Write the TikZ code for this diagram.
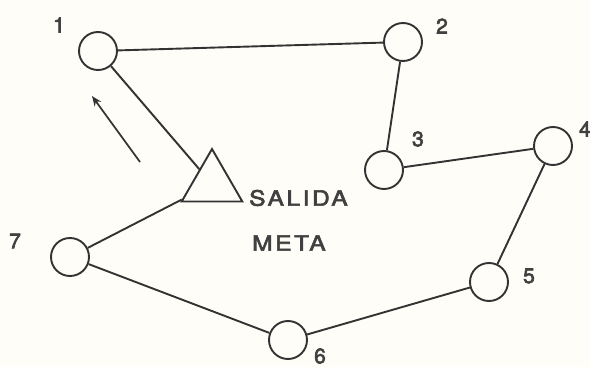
\documentclass[tikz,border=0pt]{standalone}
\usepackage{fontspec}
\setmainfont[FakeBold=3]{TeX Gyre Heros}
\newfontfamily\labfont[LetterSpace=12,FakeStretch=1.17,FakeBold=3]{TeX Gyre Heros}
\usetikzlibrary{shapes.geometric,arrows.meta}
\definecolor{ink}{HTML}{333333}
\definecolor{txt}{HTML}{404040}
\definecolor{paper}{HTML}{FEFDF8}
\begin{document}
\begin{tikzpicture}[x=1pt,y=-1pt,
  stop/.style={circle,draw=ink,line width=1.9pt,minimum size=38pt,inner sep=0pt},
  start/.style={regular polygon,regular polygon sides=3,draw=ink,line width=1.9pt,minimum size=70pt,inner sep=0pt},
  edge/.style={draw=ink,line width=1.9pt},
  num/.style={text=txt,font=\fontsize{21}{25}\selectfont,inner sep=0pt},
  word/.style={text=txt,font=\labfont\fontsize{21}{25}\selectfont,inner sep=0pt,anchor=west}]
\fill[paper] (0,0) rectangle (590,367);
\useasboundingbox (0,0) rectangle (590,367);
\node[stop] (n1) at (98,51) {};
\node[stop] (n2) at (403,42) {};
\node[stop] (n3) at (384,170) {};
\node[stop] (n4) at (553,146) {};
\node[stop] (n5) at (489,282) {};
\node[stop] (n6) at (288,340) {};
\node[stop] (n7) at (70,257) {};
\node[start] (s) at (212,184) {};
\node[num] (l1) at (59,25) {1};
\node[num] (l2) at (442,26) {2};
\node[num] (l3) at (418,139) {3};
\node[num] (l4) at (585,129) {4};
\node[num] (l5) at (529,276) {5};
\node[num] (l6) at (320,356) {6};
\node[num] (l7) at (15,241) {7};
\node[word] (sal) at (249,198) {SALIDA};
\node[word] (met) at (252,243) {META};
\path[edge] (n1) -- (n2) -- (n3) -- (n4) -- (n5) -- (n6) -- (n7) -- (s) -- (n1);
\coordinate (a0) at (140,162);
\coordinate (a1) at (92,96);
\draw[ink,line width=1.7pt,-{Stealth[length=10pt,width=8pt]}] (a0) -- (a1);
\end{tikzpicture}
\end{document}
